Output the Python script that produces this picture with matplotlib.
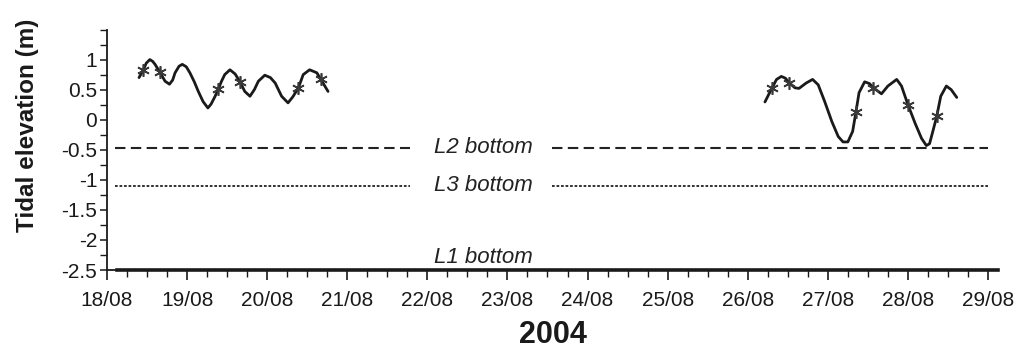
import numpy as np
import matplotlib
matplotlib.use("Agg")
import matplotlib.pyplot as plt
from matplotlib.ticker import MultipleLocator, FixedLocator

plt.rcParams['font.family'] = ['Liberation Sans', 'DejaVu Sans']

# Time in days of August 2004, tidal elevation in metres
t_first = [18.40, 18.45, 18.49, 18.535, 18.57, 18.60, 18.66, 18.725, 18.78, 18.82,
           18.85, 18.90, 18.94, 18.99, 19.035, 19.09, 19.14, 19.20, 19.26, 19.30,
           19.35, 19.39, 19.43, 19.47, 19.535, 19.60, 19.66, 19.72, 19.785, 19.84,
           19.89, 19.97, 20.04, 20.10, 20.18, 20.26, 20.32, 20.39, 20.45, 20.53,
           20.62, 20.67, 20.76]
h_first = [0.70, 0.82, 0.94, 1.00, 0.97, 0.92, 0.79, 0.64, 0.59, 0.66,
           0.78, 0.89, 0.92, 0.88, 0.78, 0.63, 0.47, 0.30, 0.195, 0.26,
           0.39, 0.51, 0.64, 0.75, 0.83, 0.76, 0.63, 0.47, 0.39, 0.50,
           0.64, 0.74, 0.70, 0.61, 0.39, 0.28, 0.38, 0.53, 0.75, 0.83,
           0.78, 0.67, 0.47]

t_second = [26.215, 26.30, 26.36, 26.42, 26.47, 26.52, 26.59, 26.64, 26.73, 26.81,
            26.88, 26.96, 27.05, 27.13, 27.19, 27.25, 27.31, 27.35, 27.39, 27.46,
            27.52, 27.57, 27.67, 27.75, 27.86, 27.92, 28.00, 28.09, 28.17, 28.23,
            28.27, 28.31, 28.36, 28.41, 28.48, 28.54, 28.61]
h_second = [0.295, 0.52, 0.67, 0.72, 0.69, 0.61, 0.53, 0.52, 0.61, 0.67,
            0.58, 0.305, -0.03, -0.28, -0.37, -0.37, -0.195, 0.12, 0.45, 0.63,
            0.60, 0.53, 0.43, 0.56, 0.67, 0.56, 0.25, -0.06, -0.31, -0.43,
            -0.40, -0.20, 0.055, 0.39, 0.56, 0.50, 0.37]

# Sampling instants (asterisks)
t_samples = [18.45, 18.66, 19.39, 19.66, 20.39, 20.67,
             26.30, 26.52, 27.35, 27.57, 28.00, 28.36]
h_samples = [0.82, 0.79, 0.51, 0.63, 0.53, 0.67,
             0.52, 0.61, 0.12, 0.53, 0.25, 0.055]

# Bottom levels of the three sites (m)
level_names = ["L1 bottom", "L2 bottom", "L3 bottom"]
level_values = [-2.5, -0.47, -1.1]

days = list(range(18, 30))
day_labels = [f"{d:02d}/08" for d in days]
y_ticks = [-2.5, -2, -1.5, -1, -0.5, 0, 0.5, 1]
y_labels = ["-2.5", "-2", "-1.5", "-1", "-0.5", "0", "0.5", "1"]

W, H = 1032, 354
fig = plt.figure(figsize=(W / 100, H / 100), dpi=100)
ax = fig.add_axes([107 / W, 1 - 270 / H, (988 - 107) / W, (270 - 29.5) / H])

ink = "#1a1a1a"
for tt, hh in ((t_first, h_first), (t_second, h_second)):
    ax.plot(tt, hh, color=ink, lw=2.0, solid_capstyle="round",
            solid_joinstyle="round", zorder=3)
ax.plot(t_samples, h_samples, linestyle="none", marker=(6, 2, 0), markersize=9,
        markeredgewidth=1.2, color="#3a3a3a", zorder=4)

# Level lines, interrupted around their labels
gap_left, gap_right = 21.78, 23.55
x_start, x_end = 18.10, 29.0
l1, l2, l3 = level_values
for xs in ((x_start, gap_left), (gap_right, x_end)):
    ax.plot(xs, [l2, l2], color="#222222", lw=1.5, dashes=(5, 2.6), zorder=2)
    ax.plot(xs, [l3, l3], color="#222222", lw=1.3, dashes=(1.5, 1.0), zorder=2)
ax.plot([18.12, 29.12], [l1, l1], color=ink, lw=2.6, clip_on=False, zorder=2)

x_mid = 22.7
label_kw = dict(style="italic", fontsize=16, color="#222222", ha="center", va="center")
ax.text(x_mid, l2, level_names[1], **label_kw)
ax.text(x_mid, l3, level_names[2], **label_kw)
ax.text(x_mid, l1 + 0.2, level_names[0], **label_kw)

ax.set_xlim(days[0], days[-1])
ax.set_ylim(-2.5, 1.5)

ax.xaxis.set_major_locator(FixedLocator(days))
ax.set_xticklabels(day_labels)
ax.xaxis.set_minor_locator(MultipleLocator(0.25))
ax.yaxis.set_major_locator(FixedLocator(y_ticks))
ax.set_yticklabels(y_labels)
ax.yaxis.set_minor_locator(MultipleLocator(0.25))

ax.tick_params(axis="x", which="major", length=7, width=1.2, direction="out",
               labelsize=15, pad=8, colors=ink)
ax.tick_params(axis="x", which="minor", length=5, width=1.0, direction="out", colors=ink)
ax.tick_params(axis="y", which="major", length=5, width=1.1, direction="out",
               labelsize=15, pad=2, colors=ink)
ax.tick_params(axis="y", which="minor", length=5, width=1.0, direction="out", colors=ink)

for side in ("top", "right"):
    ax.spines[side].set_visible(False)
for side in ("left", "bottom"):
    ax.spines[side].set_linewidth(1.3)
    ax.spines[side].set_color(ink)

fig.text(28 / W, 1 - 125 / H, "Tidal elevation (m)", rotation=90, fontsize=17.5,
         fontweight="bold", color=ink, ha="center", va="center")
fig.text(553 / W, 1 - 335 / H, "2004", fontsize=22, fontweight="bold", color=ink,
         ha="center", va="center")

fig.savefig("out.png", dpi=100)
